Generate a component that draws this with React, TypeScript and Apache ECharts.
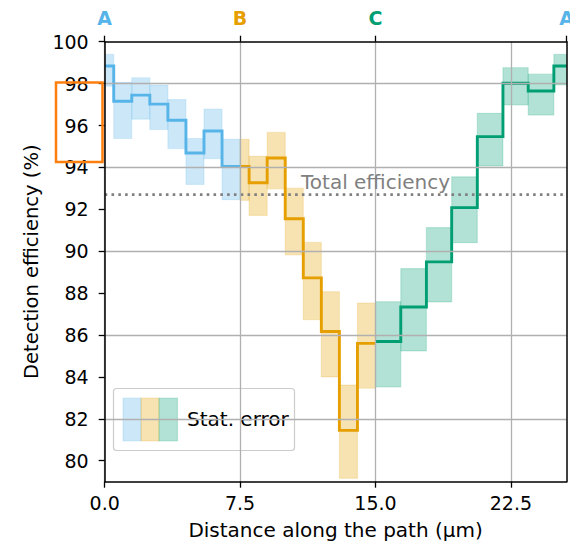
import React, { useEffect, useRef } from 'react';
import * as echarts from 'echarts';

// ---- data ----
const blueEdges = [0, 0.5, 1.5, 2.5, 3.5, 4.5, 5.5, 6.5, 7.5];
const blueEff = [98.84, 97.16, 97.45, 97.02, 96.25, 94.69, 95.74, 94.05];
const blueLo = [97.88, 95.38, 96.3, 95.81, 94.9, 93.19, 94.42, 92.46];
const blueHi = [99.4, 98.06, 98.28, 97.93, 97.24, 95.38, 96.78, 95.34];

const orangeEdges = [7.5, 8, 9, 10, 11, 12, 13, 14, 15];
const orangeEff = [94.05, 93.27, 94.45, 91.55, 88.73, 86.17, 81.45, 85.6];
const orangeLo = [92.43, 91.71, 92.98, 89.83, 86.73, 84.0, 79.16, 83.46];
const orangeHi = [95.34, 94.53, 95.67, 93.01, 90.42, 88.07, 83.61, 87.53];

const greenEdges = [15, 16.4, 17.82, 19.22, 20.64, 22.06, 23.46, 24.88, 25.58];
const greenEff = [85.69, 87.34, 89.49, 92.08, 95.47, 98.02, 97.65, 98.84];
const greenLo = [83.52, 85.24, 87.58, 90.41, 94.07, 96.98, 96.5, 97.94];
const greenHi = [87.59, 89.17, 91.13, 93.55, 96.58, 98.76, 98.45, 99.4];

const totalEfficiency = 92.7;
const xTicks = [0, 7.5, 15, 22.5];
const yTicks = [80, 82, 84, 86, 88, 90, 92, 94, 96, 98, 100];
const pathMarks = [0, 7.5, 15, 25.58];
const pathLabels = ['a', 'b', 'c', 'a'];
const pathTexts = ['A', 'B', 'C', 'A'];

const X_MIN = 0;
const X_MAX = 25.58;
const Y_MIN = 79;
const Y_MAX = 100;

const BLUE = '#56B4E9';
const ORANGE = '#E69F00';
const GREEN = '#009E73';
const FONT = 'DejaVu Sans';

function rgba(hex: string, a: number) {
  const r = parseInt(hex.slice(1, 3), 16);
  const g = parseInt(hex.slice(3, 5), 16);
  const b = parseInt(hex.slice(5, 7), 16);
  return `rgba(${r},${g},${b},${a})`;
}

function stepPoints(edges: number[], eff: number[]) {
  const pts: number[][] = [];
  for (let i = 0; i < eff.length; i++) {
    pts.push([edges[i], eff[i]]);
    pts.push([edges[i + 1], eff[i]]);
  }
  return pts;
}

function bandData(edges: number[], lo: number[], hi: number[]) {
  return lo.map((l, i) => [edges[i], edges[i + 1], l, hi[i]]);
}

function bandSeries(name: string, color: string, data: number[][]) {
  return {
    type: 'custom',
    name,
    z: 2,
    data,
    encode: { x: [0, 1], y: [2, 3] },
    renderItem: (_params: any, api: any) => {
      const p0 = api.coord([api.value(0), api.value(3)]);
      const p1 = api.coord([api.value(1), api.value(2)]);
      return {
        type: 'rect',
        shape: { x: p0[0], y: p0[1], width: p1[0] - p0[0], height: p1[1] - p0[1] },
        style: { fill: rgba(color, 0.3), stroke: rgba(color, 0.18), lineWidth: 1.2 },
      };
    },
  };
}

function stepSeries(name: string, color: string, data: number[][]) {
  return {
    type: 'line',
    name,
    z: 4,
    data,
    showSymbol: false,
    symbol: 'none',
    lineStyle: { color, width: 2.9, join: 'miter' },
  };
}

export default function App() {
  const ref = useRef<HTMLDivElement>(null);

  useEffect(() => {
    if (!ref.current) return;
    const chart = echarts.init(ref.current, null, { renderer: 'svg' });

    const gridLeft = 104.7;
    const gridTop = 41.7;
    const gridWidth = 461.8;
    const gridHeight = 440;

    const option: any = {
      animation: false,
      backgroundColor: '#ffffff',
      textStyle: { fontFamily: FONT },
      grid: {
        left: gridLeft,
        top: gridTop,
        width: gridWidth,
        height: gridHeight,
        containLabel: false,
        outerBoundsMode: 'none',
      },
      xAxis: [
        {
          type: 'value',
          position: 'bottom',
          min: X_MIN,
          max: X_MAX,
          interval: 7.5,
          z: 10,
          name: 'Distance along the path (µm)',
          nameLocation: 'middle',
          nameGap: 38,
          nameTextStyle: { fontFamily: FONT, fontSize: 20, color: '#000' },
          axisLine: { show: true, onZero: false, lineStyle: { color: '#000', width: 1.5 } },
          axisTick: { show: true, customValues: xTicks, length: 6, lineStyle: { color: '#000', width: 1.3 } },
          axisLabel: {
            customValues: xTicks,
            margin: 12,
            fontFamily: FONT,
            fontSize: 19,
            color: '#000',
            formatter: (v: number) => v.toFixed(1),
          },
          splitLine: { show: true, lineStyle: { color: '#b0b0b0', width: 1.3 } },
        },
        {
          type: 'value',
          position: 'top',
          min: X_MIN,
          max: X_MAX,
          z: 10,
          axisLine: { show: true, onZero: false, lineStyle: { color: '#000', width: 1.5 } },
          axisTick: { show: true, customValues: pathMarks, length: 6, lineStyle: { color: '#000', width: 1.3 } },
          axisLabel: {
            customValues: pathMarks,
            margin: 14,
            fontFamily: FONT,
            fontSize: 19,
            fontWeight: 'bold',
            hideOverlap: false,
            formatter: (v: number) => {
              const i = pathMarks.indexOf(v);
              return i >= 0 ? `{${pathLabels[i]}|${pathTexts[i]}}` : '';
            },
            rich: {
              a: { color: BLUE, fontWeight: 'bold', fontSize: 19, fontFamily: FONT },
              b: { color: ORANGE, fontWeight: 'bold', fontSize: 19, fontFamily: FONT },
              c: { color: GREEN, fontWeight: 'bold', fontSize: 19, fontFamily: FONT },
            },
          },
          splitLine: { show: false },
        },
      ],
      yAxis: [
        {
          type: 'value',
          position: 'left',
          min: Y_MIN,
          max: Y_MAX,
          interval: 1,
          z: 10,
          name: 'Detection efficiency (%)',
          nameLocation: 'middle',
          nameGap: 62,
          nameRotate: 90,
          nameTextStyle: { fontFamily: FONT, fontSize: 19.5, color: '#000' },
          axisLine: { show: true, onZero: false, lineStyle: { color: '#000', width: 1.5 } },
          axisTick: { show: true, customValues: yTicks, length: 6, lineStyle: { color: '#000', width: 1.3 } },
          axisLabel: {
            customValues: yTicks,
            margin: 16,
            fontFamily: FONT,
            fontSize: 19,
            color: '#000',
          },
          splitLine: { show: true, lineStyle: { color: ['rgba(0,0,0,0)', '#b0b0b0'], width: 1.3 } },
        },
        {
          type: 'value',
          position: 'right',
          min: Y_MIN,
          max: Y_MAX,
          z: 10,
          axisLine: { show: true, onZero: false, lineStyle: { color: '#000', width: 1.5 } },
          axisTick: { show: false },
          axisLabel: { show: false },
          splitLine: { show: false },
        },
      ],
      series: [
        bandSeries('blueBand', BLUE, bandData(blueEdges, blueLo, blueHi)),
        bandSeries('orangeBand', ORANGE, bandData(orangeEdges, orangeLo, orangeHi)),
        bandSeries('greenBand', GREEN, bandData(greenEdges, greenLo, greenHi)),
        {
          type: 'line',
          name: 'total',
          z: 3,
          data: [
            [X_MIN, totalEfficiency],
            [X_MAX, totalEfficiency],
          ],
          showSymbol: false,
          symbol: 'none',
          lineStyle: { color: '#808080', width: 2.6, type: [2.6, 4.2] },
        },
        stepSeries('blue', BLUE, stepPoints(blueEdges, blueEff)),
        stepSeries('orange', ORANGE, stepPoints(orangeEdges, orangeEff)),
        stepSeries('green', GREEN, stepPoints(greenEdges, greenEff)),
      ],
      graphic: [
        {
          type: 'text',
          left: 301,
          top: 172,
          z: 20,
          style: { text: 'Total efficiency', fontFamily: FONT, fontSize: 20, fill: '#808080' },
        },
        {
          type: 'group',
          z: 20,
          children: [
            {
              type: 'rect',
              shape: { x: 113.5, y: 388.5, width: 181, height: 62, r: 3 },
              style: { fill: 'rgba(255,255,255,0.8)', stroke: '#cccccc', lineWidth: 1.2 },
            },
            {
              type: 'rect',
              shape: { x: 123, y: 398, width: 18, height: 43 },
              style: { fill: rgba(BLUE, 0.3), stroke: rgba(BLUE, 0.2), lineWidth: 1.2 },
            },
            {
              type: 'rect',
              shape: { x: 141, y: 398, width: 18, height: 43 },
              style: { fill: rgba(ORANGE, 0.3), stroke: rgba(ORANGE, 0.2), lineWidth: 1.2 },
            },
            {
              type: 'rect',
              shape: { x: 159, y: 398, width: 18.5, height: 43 },
              style: { fill: rgba(GREEN, 0.3), stroke: rgba(GREEN, 0.2), lineWidth: 1.2 },
            },
            {
              type: 'text',
              x: 187,
              y: 419,
              style: {
                text: 'Stat. error',
                fontFamily: FONT,
                fontSize: 20,
                fill: '#000',
                verticalAlign: 'middle',
                align: 'left',
              },
            },
          ],
        },
        {
          type: 'rect',
          z: 30,
          shape: { x: 56, y: 82.5, width: 46.5, height: 79.5 },
          style: { fill: 'none', stroke: '#ff7f0e', lineWidth: 2.5 },
        },
      ],
    };

    chart.setOption(option);
    return () => chart.dispose();
  }, []);

  return (
    <div
      ref={ref}
      style={{ position: 'fixed', left: 0, top: 0, width: 570, height: 543, background: '#fff' }}
    />
  );
}
